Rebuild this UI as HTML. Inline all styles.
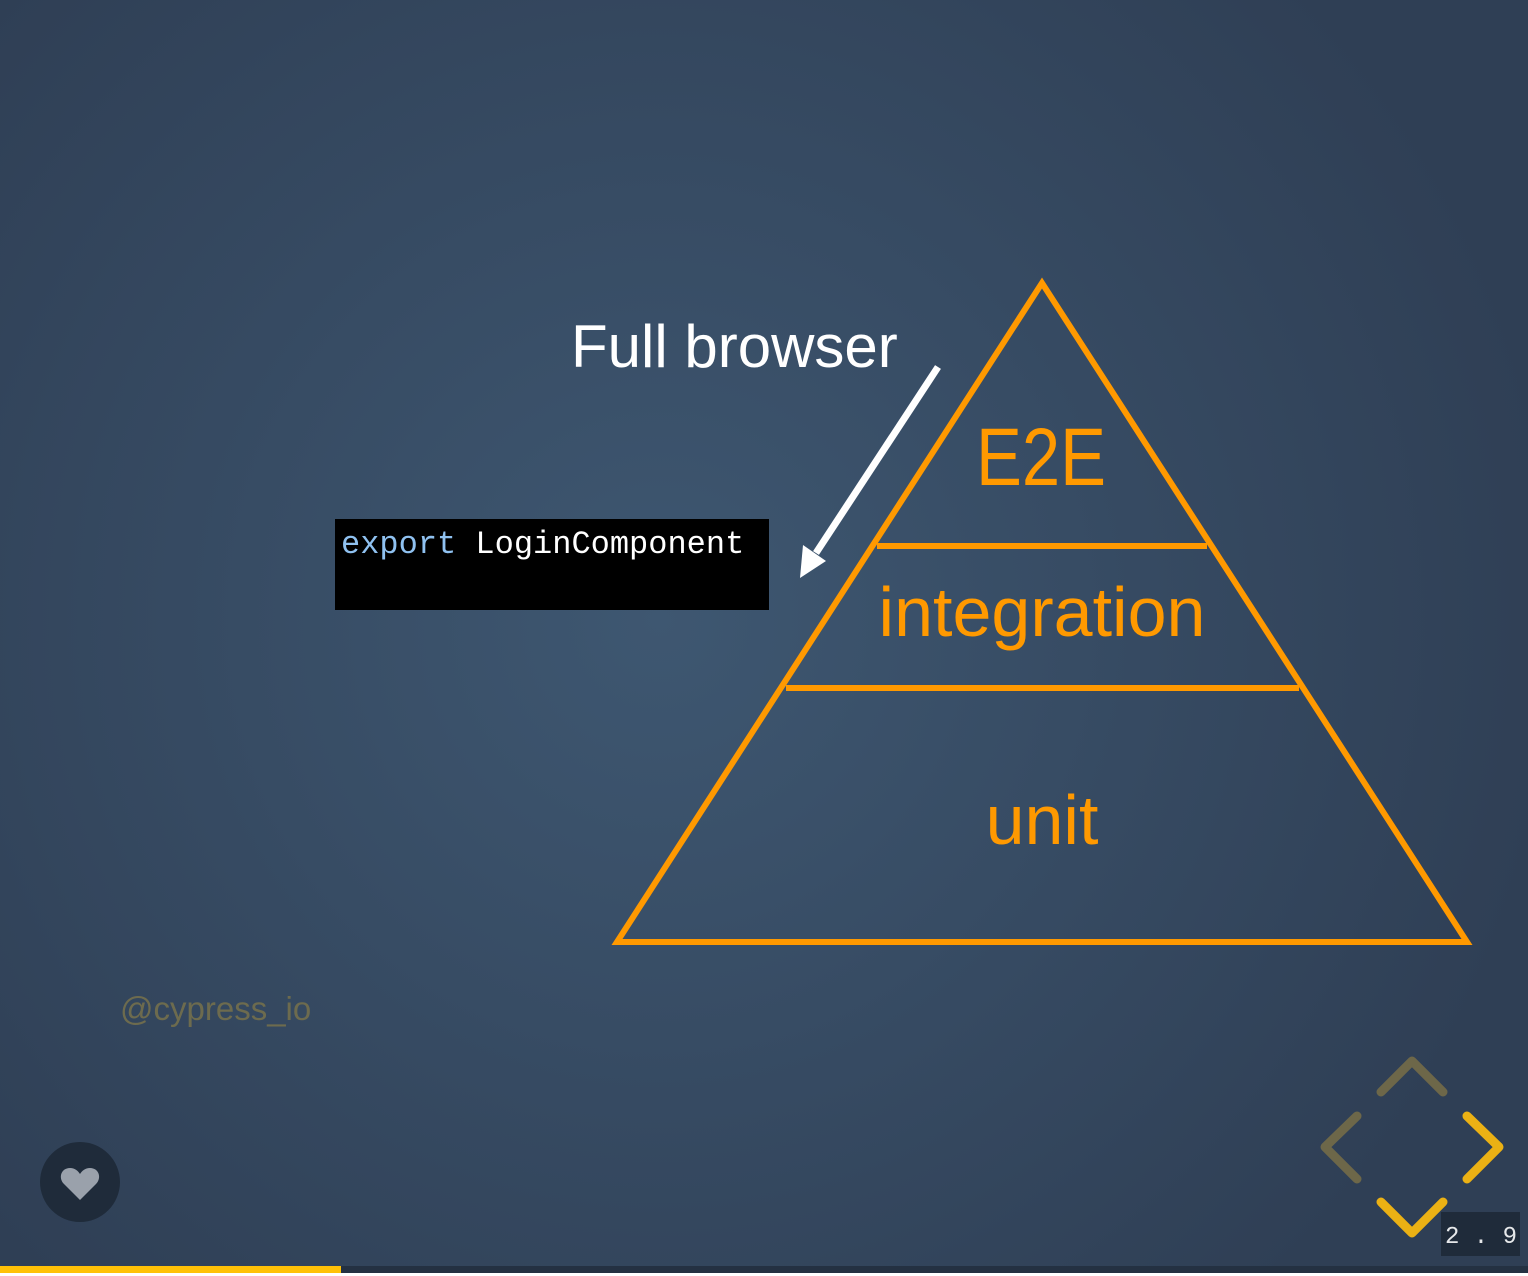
<!DOCTYPE html>
<html><head><meta charset="utf-8"><style>
html,body{margin:0;padding:0;width:1528px;height:1276px;overflow:hidden;background:#34465c}
svg{display:block}
</style></head><body>
<svg width="1528" height="1276" viewBox="0 0 1528 1276" xmlns="http://www.w3.org/2000/svg">
<defs>
<radialGradient id="bg" cx="660" cy="620" r="900" gradientUnits="userSpaceOnUse">
<stop offset="0" stop-color="#3e5771"/>
<stop offset="1" stop-color="#2f3f55"/>
</radialGradient>
</defs>
<rect x="0" y="0" width="1528" height="1276" fill="url(#bg)"/>
<polygon points="1042,283 617,942 1467,942" fill="none" stroke="#ff9900" stroke-width="6" stroke-linejoin="miter"/>
<line x1="877" y1="546" x2="1207" y2="546" stroke="#ff9900" stroke-width="6"/>
<line x1="786" y1="688" x2="1299" y2="688" stroke="#ff9900" stroke-width="6"/>
<g font-family="'Liberation Sans','DejaVu Sans',sans-serif" fill="#ff9900" text-anchor="middle">
<text x="1041" y="485" font-size="82" textLength="130" lengthAdjust="spacingAndGlyphs">E2E</text>
<text x="1042" y="636" font-size="70">integration</text>
<text x="1042" y="844" font-size="70">unit</text>
</g>
<text x="571" y="367" font-family="'Liberation Sans','DejaVu Sans',sans-serif" font-size="60" fill="#ffffff">Full browser</text>
<line x1="938" y1="367" x2="816" y2="553" stroke="#fff" stroke-width="7"/>
<polygon points="800,578 803,545 826,561" fill="#fff"/>
<rect x="335" y="519" width="434" height="91" fill="#000"/>
<text x="341" y="553" font-family="'Liberation Mono','Courier New',monospace" font-size="32" fill="#fff" xml:space="preserve"><tspan fill="#8fc1f0">export</tspan> LoginComponent</text>
<text x="120" y="1020" font-family="'Liberation Sans','DejaVu Sans',sans-serif" font-size="33" fill="#6d6b4e">@cypress_io</text>
<circle cx="80" cy="1182" r="40" fill="#1f2b3a"/>
<path d="M80,1200 L64,1184 C58,1178 61,1168 70,1168 C75,1168 78,1171 80,1174 C82,1171 85,1168 90,1168 C99,1168 102,1178 96,1184 Z" fill="#9aa1ab"/>
<g fill="none" stroke-width="9" stroke-linecap="round" stroke-linejoin="round">
<polyline points="1381,1092 1412,1061 1443,1092" stroke="#6d6749"/>
<polyline points="1357,1116 1325,1147 1357,1179" stroke="#6d6749"/>
<polyline points="1467,1116 1499,1147 1467,1179" stroke="#ebb114"/>
<polyline points="1381,1202 1412,1233 1443,1202" stroke="#ebb114"/>
</g>
<rect x="1441" y="1212" width="79" height="44" fill="#1f2b3a"/>
<text x="1481" y="1243" font-family="'Liberation Mono',monospace" font-size="24" fill="#e6e8ea" text-anchor="middle" xml:space="preserve">2 . 9</text>
<rect x="0" y="1266" width="1528" height="7" fill="#243142"/>
<rect x="0" y="1266" width="341" height="7" fill="#ffc107"/>
<rect x="0" y="1273" width="1528" height="3" fill="#ffffff"/>
</svg>
</body></html>
